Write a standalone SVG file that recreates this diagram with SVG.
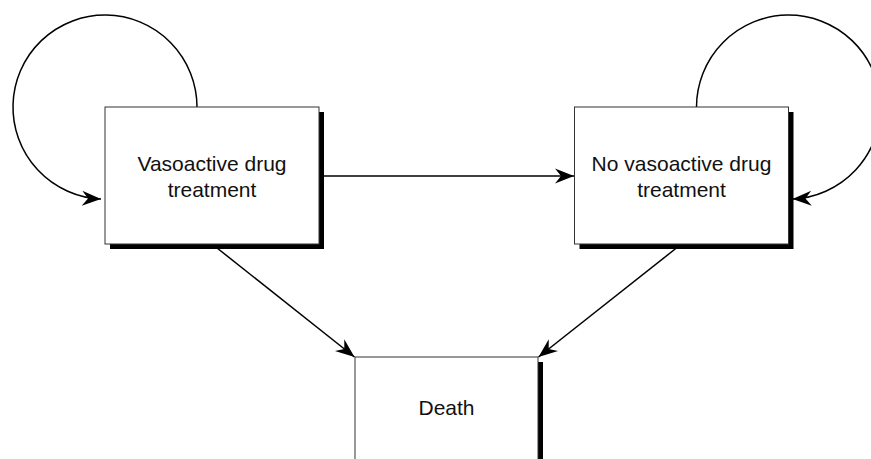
<svg xmlns="http://www.w3.org/2000/svg" width="871" height="459" viewBox="0 0 871 459">
<style>
.shadow{fill:#000;}
.box{fill:#fff;stroke:#333;stroke-width:1;}
.lbl{font-family:"Liberation Sans",Arial,sans-serif;font-size:21px;fill:#111;text-anchor:middle;}
.edge{fill:none;stroke:#000;stroke-width:1.5;}
</style>
<defs>
<marker id="arr" markerUnits="userSpaceOnUse" markerWidth="22" markerHeight="18" viewBox="-20 -9 21 18" refX="0" refY="0" orient="auto">
<path d="M0,0 L-19,-7.5 L-13,0 L-19,7.5 Z" fill="#000"/>
</marker>
</defs>
<rect width="871" height="459" fill="#fff"/>
<g id="connectors">
<path class="edge" d="M197,107 A92,92 0 1 0 101,199" marker-end="url(#arr)"/>
<path class="edge" d="M696.5,107 A92,92 0 1 1 792.5,199" marker-end="url(#arr)"/>
<path class="edge" d="M319,176 L574,176" marker-end="url(#arr)"/>
<path class="edge" d="M212,244 L354.5,357" marker-end="url(#arr)"/>
<path class="edge" d="M681.5,244 L538.5,357" marker-end="url(#arr)"/>
</g>
<g id="node-vasoactive">
<rect class="shadow" x="110" y="112" width="214" height="137"/>
<rect class="box" x="105" y="107" width="214" height="137"/>
<text class="lbl" x="212" y="170.5">Vasoactive drug</text>
<text class="lbl" x="212" y="196.5">treatment</text>
</g>
<g id="node-novasoactive">
<rect class="shadow" x="579.5" y="112" width="214" height="137"/>
<rect class="box" x="574.5" y="107" width="214" height="137"/>
<text class="lbl" x="681.5" y="170.5">No vasoactive drug</text>
<text class="lbl" x="681.5" y="196.5">treatment</text>
</g>
<g id="node-death">
<rect class="shadow" x="360" y="362" width="183" height="137"/>
<rect class="box" x="355" y="357" width="183" height="137"/>
<text class="lbl" x="446.5" y="415">Death</text>
</g>
</svg>
